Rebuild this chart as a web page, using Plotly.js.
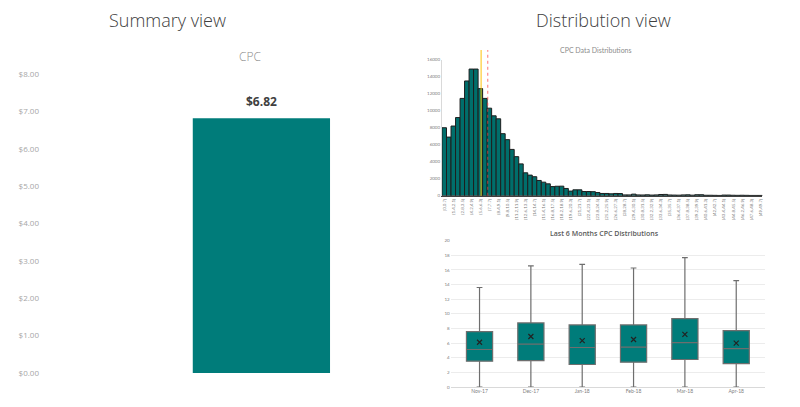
<!DOCTYPE html>
<html>
<head>
<meta charset="utf-8">
<script src="https://cdn.plot.ly/plotly-3.0.1.min.js"></script>
<style>
  html, body { margin: 0; padding: 0; background: #fff; }
  #chart { width: 800px; height: 407px; }
</style>
</head>
<body>
<div id="chart"></div>
<script>
// Summary view: average CPC
const summaryLabel = 'CPC';
const cpcValue = 6.82;

// CPC histogram (bin width 0.7, 71 bins)
const binWidth = 0.7;
const binCounts = [
  8000, 6900, 8200, 9200, 11450, 13500, 14900, 14900, 12600, 11450,
  10300, 9400, 9050, 7300, 6600, 5450, 4600, 3750, 2700, 2430,
  2240, 1800, 1600, 1400, 1080, 1120, 1130, 860, 550, 700,
  700, 500, 500, 480, 380, 270, 270, 230, 270, 260,
  100, 100, 190, 100, 90, 110, 80, 100, 150, 160,
  90, 80, 70, 100, 110, 70, 120, 120, 60, 60,
  50, 40, 80, 80, 60, 50, 60, 50, 40, 40, 40
];
const binTickLabels = [
  '[0,0.7]', '(1.4,2.1]', '(2.8,3.5]', '(4.2,4.9]', '(5.6,6.3]', '(7,7.7]',
  '(8.4,9.1]', '(9.8,10.5]', '(11.2,11.9]', '(12.6,13.3]', '(14,14.7]', '(15.4,16.1]',
  '(16.8,17.5]', '(18.2,18.9]', '(19.6,20.3]', '(21,21.7]', '(22.4,23.1]', '(23.8,24.5]',
  '(25.2,25.9]', '(26.6,27.3]', '(28,28.7]', '(29.4,30.1]', '(30.8,31.5]', '(32.2,32.9]',
  '(33.6,34.3]', '(35,35.7]', '(36.4,37.1]', '(37.8,38.5]', '(39.2,39.9]', '(40.6,41.3]',
  '(42,42.7]', '(43.4,44.1]', '(44.8,45.5]', '(46.2,46.9]', '(47.6,48.3]', '(49,49.7]'
];
const medianLine = 6.07;
const meanLine = 7.1;

// Last 6 months box plot stats
const months = ['Nov-17', 'Dec-17', 'Jan-18', 'Feb-18', 'Mar-18', 'Apr-18'];
const boxLow = [0, 0, 0, 0, 0, 0];
const boxQ1 = [3.53, 3.62, 3.08, 3.4, 3.76, 3.21];
const boxMedian = [5.13, 5.85, 5.4, 5.44, 6.08, 5.26];
const boxQ3 = [7.58, 8.76, 8.49, 8.49, 9.35, 7.72];
const boxHigh = [13.6, 16.55, 16.77, 16.27, 17.68, 14.55];
const boxMean = [6.12, 6.9, 6.35, 6.5, 7.2, 5.99];

const teal = '#007c7a';
const histTeal = '#006e6b';

// bin centres and the positions of labelled bins
const binCenters = binCounts.map((_, i) => (i + 0.5) * binWidth);
const tickPos = binTickLabels.map((_, k) => (2 * k + 0.5) * binWidth);

const traces = [
  {
    type: 'bar', x: [0], y: [cpcValue], width: [0.31],
    marker: { color: teal }, xaxis: 'x', yaxis: 'y', hoverinfo: 'none'
  },
  {
    type: 'bar', x: binCenters, y: binCounts, width: binWidth,
    marker: { color: histTeal, line: { color: '#1e1e1e', width: 1 } },
    xaxis: 'x2', yaxis: 'y2', hoverinfo: 'none'
  },
  {
    type: 'box', x: months, q1: boxQ1, median: boxMedian, q3: boxQ3,
    lowerfence: boxLow, upperfence: boxHigh,
    fillcolor: teal, line: { color: '#6e6e6e', width: 1.2 },
    width: 0.51, whiskerwidth: 0.22, xaxis: 'x3', yaxis: 'y3', hoverinfo: 'none'
  },
  {
    type: 'scatter', mode: 'markers', x: months, y: boxMean,
    marker: { symbol: 'x-thin', size: 5, line: { color: '#222', width: 1.2 } },
    xaxis: 'x3', yaxis: 'y3', hoverinfo: 'none'
  }
];

const small = { family: 'Lato, "Open Sans", sans-serif', size: 4.5, color: '#808080' };

function label(text, x, y, font) {
  return { text: text, xref: 'paper', yref: 'paper', x: x, y: y,
    xanchor: 'center', yanchor: 'middle', showarrow: false, font: font };
}

const layout = {
  width: 800, height: 407,
  margin: { l: 0, r: 0, t: 0, b: 0 },
  paper_bgcolor: '#fff', plot_bgcolor: 'rgba(0,0,0,0)',
  showlegend: false,
  font: { family: '"Open Sans", sans-serif' },
  xaxis: {
    domain: [0.05, 0.6035], range: [-0.5, 0.5],
    showticklabels: false, showgrid: false, zeroline: false, showline: false
  },
  yaxis: {
    domain: [0.0835, 0.818], range: [0, 8], dtick: 1,
    tickprefix: '$', tickformat: '.2f',
    showgrid: false, zeroline: false, showline: false, ticks: '',
    tickfont: { family: '"Open Sans", sans-serif', size: 8, color: '#a6a6a6' }
  },
  xaxis2: {
    domain: [0.5525, 0.953], range: [0, binCounts.length * binWidth], anchor: 'y2',
    tickvals: tickPos, ticktext: binTickLabels, tickangle: -90,
    tickfont: small, ticks: '', showgrid: false, zeroline: false,
    showline: true, linecolor: '#404040', linewidth: 1
  },
  yaxis2: {
    domain: [0.519, 0.8533], range: [0, 16000], dtick: 2000, anchor: 'x2',
    tickformat: 'd',
    tickfont: small, ticks: '', showgrid: false, zeroline: false,
    showline: true, linecolor: '#d9d9d9', linewidth: 1
  },
  xaxis3: {
    domain: [0.5634, 0.9563], anchor: 'y3', type: 'category',
    tickfont: { family: 'Lato, sans-serif', size: 5, color: '#808080' },
    ticks: '', showgrid: false, showline: false
  },
  yaxis3: {
    domain: [0.0491, 0.4086], range: [0, 20], dtick: 2, anchor: 'x3',
    tickfont: small, ticks: '', gridcolor: '#ececec', gridwidth: 1,
    zeroline: true, zerolinecolor: '#d9d9d9', showline: false
  },
  shapes: [
    { type: 'line', xref: 'x2', yref: 'paper', x0: medianLine, x1: medianLine, y0: 0.519, y1: 0.877,
      line: { color: '#ffc000', width: 1.3 }, opacity: 0.75 },
    { type: 'line', xref: 'x2', yref: 'paper', x0: meanLine, x1: meanLine, y0: 0.519, y1: 0.877,
      line: { color: '#ff3b3b', width: 1, dash: 'dot' }, opacity: 0.7 }
  ],
  annotations: [
    label('Summary view', 0.209, 0.951, { family: '"Open Sans", sans-serif', size: 18, color: '#404040', weight: 300 }),
    label('Distribution view', 0.754, 0.951, { family: '"Open Sans", sans-serif', size: 18, color: '#404040', weight: 300 }),
    label(summaryLabel, 0.3125, 0.86, { family: '"Open Sans", sans-serif', size: 12, color: '#8c8c8c', weight: 300 }),
    { text: '$' + cpcValue.toFixed(2), xref: 'x', yref: 'y', x: 0, y: cpcValue,
      yanchor: 'bottom', yshift: 6, showarrow: false,
      font: { family: '"Open Sans", sans-serif', size: 12, color: '#404040', weight: 700 } },
    label('CPC Data Distributions', 0.745, 0.877, { family: 'Lato, sans-serif', size: 7, color: '#8c8c8c' }),
    label('Last 6 Months CPC Distributions', 0.756, 0.4275, { family: '"Open Sans", sans-serif', size: 7, color: '#595959', weight: 600 })
  ]
};

Plotly.newPlot('chart', traces, layout, { displayModeBar: false, staticPlot: true });
</script>
</body>
</html>
